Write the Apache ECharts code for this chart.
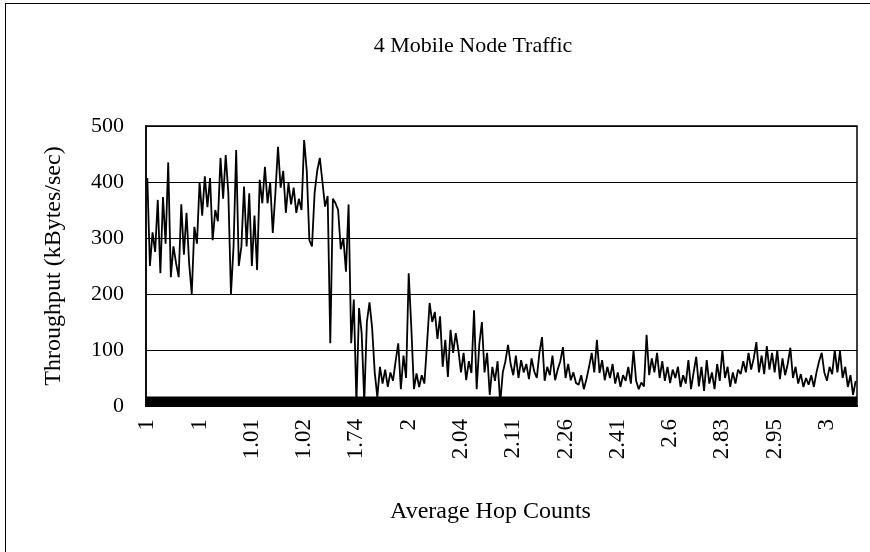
<!DOCTYPE html>
<html>
<head>
    <meta charset="utf-8"/>
    <title>4 Mobile Node Traffic</title>
    <script src="https://cdn.jsdelivr.net/npm/echarts@6/dist/echarts.min.js"></script>
    <style>
        html, body { margin: 0; padding: 0; background: #fff; }
        #frame {
            position: absolute; left: 0; top: 0; width: 870px; height: 552px;
        }
        #edge {
            position: absolute; left: 5px; top: 3px; width: 865px; height: 549px;
            border-left: 1px solid #000; border-top: 1px solid #000;
            pointer-events: none;
        }
        #chart { width: 870px; height: 552px; }
    </style>
</head>
<body>
<div id="frame">
    <div id="chart"></div>
    <div id="edge"></div>
</div>
<script type="text/javascript">
    // x axis labels (hop counts), one every 20 samples
    let hopLabels = ['1', '1', '1.01', '1.02', '1.74', '2', '2.04', '2.11', '2.26', '2.41', '2.6', '2.83', '2.95', '3'];
    let yTicks = [0, 100, 200, 300, 400, 500];

    // throughput samples (kBytes/sec)
    let seg1 = [407, 250, 310, 275, 368, 237, 373, 290, 435, 230, 285, 255, 230, 360, 270, 345, 255, 200, 320, 290,
                400, 340, 410, 355, 407, 296, 350, 330, 443, 370, 448, 380, 200, 285, 457, 250, 285, 392, 285, 380,
                250, 340, 243, 404, 362, 427, 362, 400, 309, 380, 463, 390, 420, 345, 398, 360, 390, 345, 370, 350,
                475, 420, 296, 285, 380, 420, 443, 400, 356, 375, 112, 370, 362, 350, 280, 300, 240, 360, 112, 190];
    let seg2 = [5, 175, 130, 8, 150, 185, 140, 60, 16, 70, 40, 65, 34, 60, 45, 80, 112, 30, 90, 50,
                237, 140, 30, 58, 34, 55, 40, 110, 184, 150, 168, 120, 160, 70, 118, 52, 136, 95, 130, 100,
                60, 95, 46, 80, 59, 171, 30, 110, 150, 60, 95, 20, 70, 45, 80, 5, 60, 80, 109, 75,
                55, 90, 50, 82, 60, 75, 48, 85, 62, 50, 95, 123, 45, 70, 55, 90, 46, 65, 80, 105];
    let seg3 = [50, 75, 46, 60, 41, 38, 55, 30, 48, 70, 95, 60, 118, 59, 82, 46, 70, 50, 75, 40,
                60, 34, 55, 45, 70, 40, 100, 45, 30, 42, 35, 127, 55, 85, 60, 95, 50, 80, 45, 70,
                41, 65, 50, 70, 34, 55, 40, 82, 30, 60, 88, 35, 70, 27, 82, 40, 60, 30, 75, 45,
                100, 50, 70, 34, 60, 40, 65, 57, 80, 60, 95, 65, 85, 114, 60, 90, 57, 107, 65, 95];
    let seg4 = [60, 100, 48, 85, 55, 75, 104, 50, 70, 40, 57, 34, 50, 38, 55, 34, 60, 80, 95, 60,
                45, 70, 57, 100, 60, 98, 50, 70, 34, 55, 20, 45];
    let throughput = seg1.concat(seg2, seg3, seg4);
    let samples = throughput.map(function (v, i) { return String(i); });

    let serif = 'Liberation Serif, Times New Roman, serif';
    let chart = echarts.init(document.getElementById('chart'), null, {renderer: 'canvas'});
    chart.setOption({
        backgroundColor: '#fff',
        animation: false,
        title: {
            text: '4 Mobile Node Traffic',
            left: 468,
            textAlign: 'center',
            top: 30,
            textStyle: {fontFamily: serif, fontSize: 22, fontWeight: 'normal', color: '#000'}
        },
        grid: {
            left: 146, right: 13, top: 126, bottom: 146,
            show: true, borderColor: '#000', borderWidth: 1.5
        },
        xAxis: {
            type: 'category',
            boundaryGap: true,
            data: samples,
            name: 'Average Hop Counts',
            nameLocation: 'middle',
            nameGap: 94,
            nameTextStyle: {fontFamily: serif, fontSize: 24, color: '#000', padding: [0, 22, 0, 0]},
            axisLine: {lineStyle: {color: '#000', width: 2}},
            axisTick: {show: false},
            axisLabel: {
                interval: 19,
                rotate: 90,
                margin: 13,
                fontFamily: serif,
                fontSize: 23,
                color: '#000',
                formatter: function (v, idx) { return hopLabels[Math.floor(idx / 20)]; }
            },
            splitLine: {show: false}
        },
        yAxis: {
            type: 'value',
            min: yTicks[0],
            max: yTicks[yTicks.length - 1],
            interval: 100,
            name: 'Throughput (kBytes/sec)',
            nameLocation: 'middle',
            nameGap: 80,
            nameTextStyle: {fontFamily: serif, fontSize: 24, color: '#000'},
            axisLine: {show: true, lineStyle: {color: '#000', width: 1.5}},
            axisTick: {show: false},
            axisLabel: {margin: 22, fontFamily: serif, fontSize: 22, color: '#000'},
            splitLine: {show: true, lineStyle: {color: '#000', width: 1.2}}
        },
        series: [{
            name: 'Throughput',
            type: 'line',
            data: throughput,
            symbol: 'none',
            lineStyle: {color: '#000', width: 1.8},
            markArea: {
                silent: true,
                itemStyle: {color: '#000'},
                data: [[{yAxis: 0}, {yAxis: 17}]]
            }
        }]
    });
</script>
</body>
</html>
